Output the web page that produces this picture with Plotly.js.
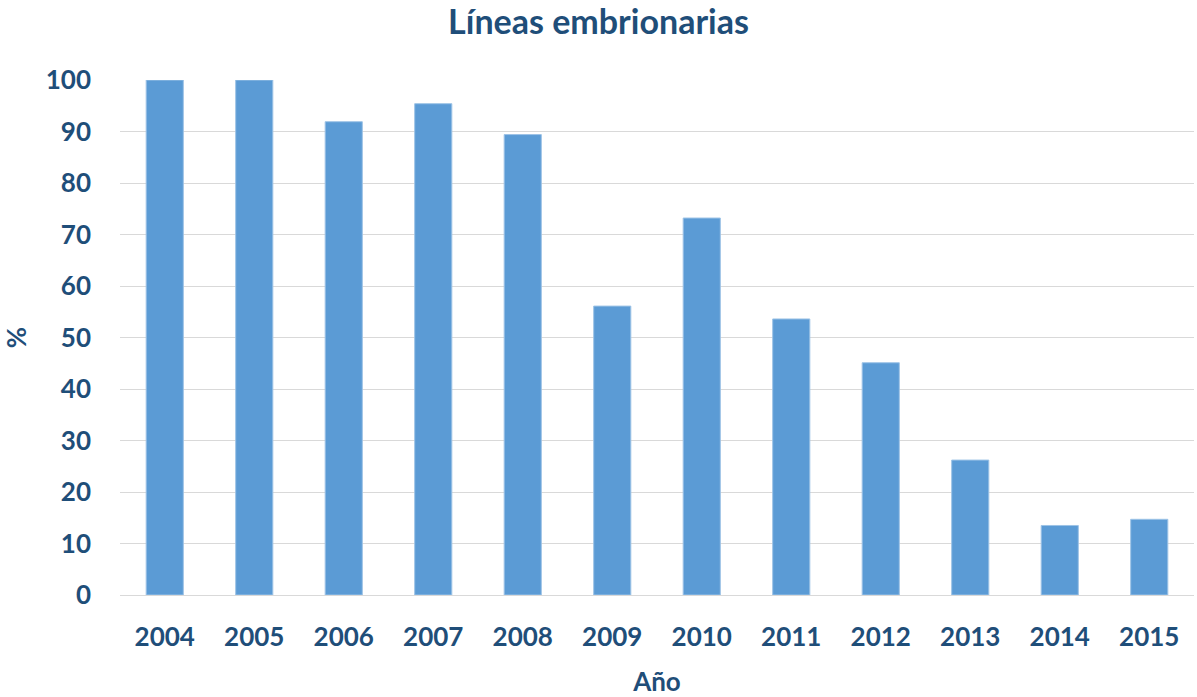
<!DOCTYPE html>
<html><head><meta charset="utf-8">
<script src="https://cdn.plot.ly/plotly-3.0.1.min.js"></script>
<style>body{margin:0;background:#fff}#c{width:1197px;height:697px}</style>
</head><body><div id="c"></div>
<script>
const years = ['2004','2005','2006','2007','2008','2009','2010','2011','2012','2013','2014','2015'];
const values = [100, 100, 91.9, 95.4, 89.4, 56.1, 73.2, 53.6, 45.1, 26.2, 13.5, 14.7];
const yTicks = [0,10,20,30,40,50,60,70,80,90,100];

const textColor = '#1F4E79';
const fontFam = 'Lato, "Open Sans", sans-serif';

Plotly.newPlot('c', [{
  type: 'bar',
  x: years,
  y: values,
  marker: {color: '#5B9BD5', line: {color: '#9DC3E6', width: 1}},
  hoverinfo: 'x+y'
}], {
  width: 1197, height: 697,
  margin: {l: 120, r: 3, t: 80, b: 102},
  paper_bgcolor: '#fff', plot_bgcolor: '#fff',
  bargap: 0.585,
  showlegend: false,
  title: {text: 'Líneas embrionarias', x: 0.5, xref: 'container', y: 0.968, yref: 'container', yanchor: 'middle',
          font: {family: fontFam, size: 34, color: textColor, weight: 'bold'}},
  xaxis: {
    type: 'category',
    tickfont: {family: fontFam, size: 26, color: textColor, weight: 'bold'},
    ticklabelstandoff: 19,
    showgrid: false, zeroline: false,
    showline: true, linecolor: '#D9D9D9', linewidth: 1,
    title: {text: 'Año', standoff: 23, font: {family: fontFam, size: 26, color: textColor, weight: 'bold'}}
  },
  yaxis: {
    range: [0, 100],
    tickvals: yTicks,
    tickfont: {family: fontFam, size: 26, color: textColor, weight: 'bold'},
    ticklabelstandoff: 28,
    showgrid: true, gridcolor: '#D9D9D9', gridwidth: 1,
    zeroline: false, showline: false,
    title: {text: '%', standoff: 12, font: {family: fontFam, size: 26, color: textColor, weight: 'bold'}}
  }
}, {displayModeBar: false, staticPlot: true});
</script></body></html>
